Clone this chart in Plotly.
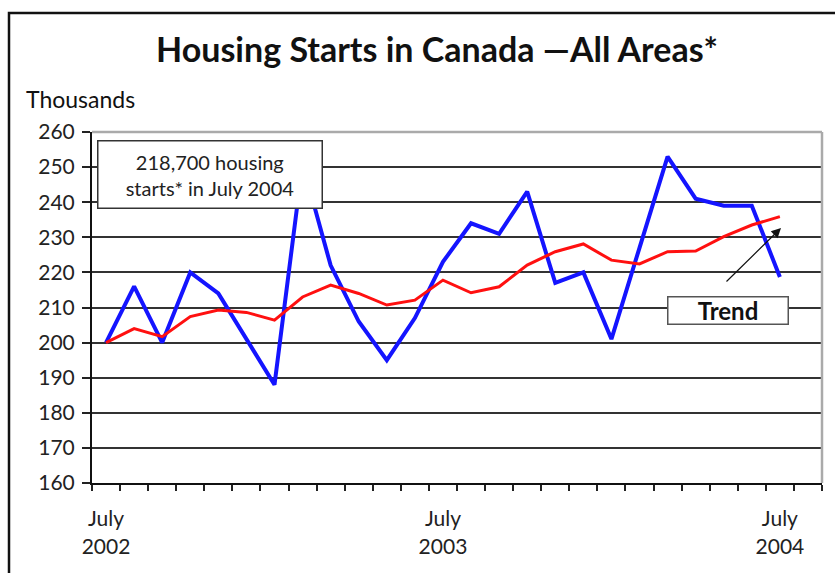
import plotly.graph_objects as go

# Monthly data, July 2002 .. July 2004 (thousands of units, SAAR)
months = ["Jul 2002", "Aug 2002", "Sep 2002", "Oct 2002", "Nov 2002", "Dec 2002",
          "Jan 2003", "Feb 2003", "Mar 2003", "Apr 2003", "May 2003", "Jun 2003",
          "Jul 2003", "Aug 2003", "Sep 2003", "Oct 2003", "Nov 2003", "Dec 2003",
          "Jan 2004", "Feb 2004", "Mar 2004", "Apr 2004", "May 2004", "Jun 2004",
          "Jul 2004"]
starts = [200, 216, 200, 220, 214, 201, 188, 251, 222, 206, 195, 207,
          223, 234, 231, 243, 217, 220, 201, 227, 253, 241, 239, 239, 218.7]
trend = [200, 204, 201.7, 207.4, 209.3, 208.6, 206.4, 213, 216.4, 214, 210.7, 212.1,
         217.8, 214.2, 215.9, 222.1, 225.9, 228.1, 223.5, 222.4, 225.9, 226.1, 230.2, 233.5, 235.9]

ytick_vals = [160, 170, 180, 190, 200, 210, 220, 230, 240, 250, 260]
xlabel_idx = [0, 12, 24]
xlabel_text = ["July<br>2002", "July<br>2003", "July<br>2004"]

FONT = "Lato, 'Open Sans', sans-serif"
W, H = 835, 573
L, R, T, B = 92, 13, 132, 90
pw, ph = W - L - R, H - T - B

def px(xpix):
    return (xpix - L) / pw

def py(ypix):
    return (H - B - ypix) / ph

idx = list(range(len(months)))

fig = go.Figure()
fig.add_trace(go.Scatter(x=idx, y=starts, mode="lines", line=dict(color="#1414ff", width=4),
                         hovertext=months, name="Housing starts"))
fig.add_trace(go.Scatter(x=idx, y=trend, mode="lines", line=dict(color="#ff1010", width=3),
                         hovertext=months, name="Trend"))

boundaries = [i - 0.5 for i in range(len(months) + 2)]

fig.update_layout(
    width=W, height=H,
    margin=dict(l=L, r=R, t=T, b=B),
    paper_bgcolor="white", plot_bgcolor="white",
    showlegend=False,
    font=dict(family=FONT, color="#1a1a1a"),
    title=dict(text="<b>Housing Starts in Canada \u2014All Areas*</b>",
               xref="container", yref="container", x=437 / W, y=1 - 50 / H,
               xanchor="center", yanchor="middle",
               font=dict(family=FONT, size=34, color="#111")),
    xaxis=dict(range=[-0.5, len(months) + 0.5], tickvals=xlabel_idx, ticktext=xlabel_text,
               ticks="", showgrid=False, zeroline=False,
               showline=True, linecolor="#111", linewidth=2,
               tickfont=dict(size=21, color="#222"), ticklabelstandoff=16,
               minor=dict(tickvals=boundaries, ticks="outside", ticklen=6,
                          tickwidth=1.5, tickcolor="#222", showgrid=False)),
    yaxis=dict(range=[160, 260], tickvals=ytick_vals, ticks="outside", ticklen=8,
               tickwidth=1.5, tickcolor="#222",
               showgrid=True, gridcolor="#333", gridwidth=2, zeroline=False,
               showline=True, linecolor="#111", linewidth=2,
               tickfont=dict(size=21, color="#222"), ticklabelstandoff=3),
)

# outer frame and light plot border (top / right)
fig.add_shape(type="rect", xref="paper", yref="paper",
              x0=px(9), x1=px(W + 10), y0=py(H + 10), y1=py(13),
              line=dict(color="#111", width=2.5), layer="below")
fig.add_shape(type="line", xref="paper", yref="paper", x0=0, x1=1, y0=1, y1=1,
              line=dict(color="#aaaaaa", width=2.5))
fig.add_shape(type="line", xref="paper", yref="paper", x0=1, x1=1, y0=0, y1=1,
              line=dict(color="#aaaaaa", width=2.5))

fig.add_annotation(text="Thousands", xref="paper", yref="paper",
                   x=px(24), y=py(99), xanchor="left", yanchor="middle",
                   showarrow=False, font=dict(size=23, color="#111"))

fig.add_annotation(text="218,700 housing<br>starts* in July 2004", xref="paper", yref="paper",
                   x=px(209.5), y=py(174), xanchor="center", yanchor="middle",
                   showarrow=False, width=219, height=62, borderpad=2,
                   bgcolor="white", bordercolor="#333", borderwidth=1.5,
                   font=dict(size=20, color="#222"))

fig.add_annotation(text="<b>Trend</b>", xref="paper", yref="paper",
                   x=px(727.5), y=py(310.5), xanchor="center", yanchor="middle",
                   showarrow=False, width=117, height=24, borderpad=1,
                   bgcolor="white", bordercolor="#555", borderwidth=1.5,
                   font=dict(size=24, color="#111"))

fig.add_annotation(text="", xref="paper", yref="paper",
                   x=px(781), y=py(228), ax=725 - 781, ay=283 - 228,
                   showarrow=True, arrowhead=2, arrowsize=1.6, arrowwidth=1.2,
                   arrowcolor="#111")

fig.write_html("out.html")
